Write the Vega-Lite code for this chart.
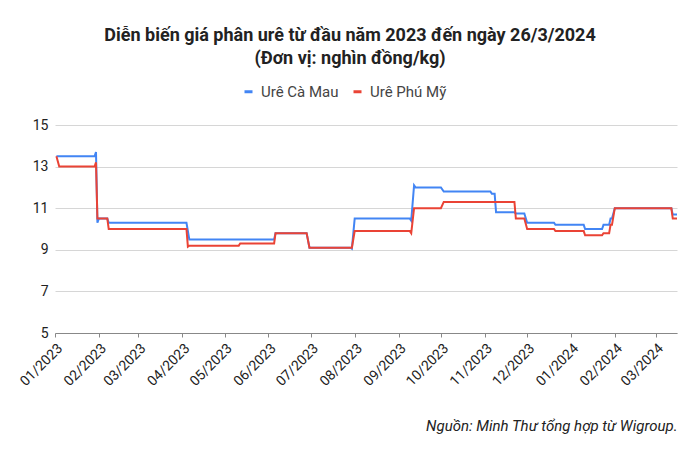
{
  "$schema": "https://vega.github.io/schema/vega-lite/v6.json",
  "width": 622,
  "height": 208,
  "autosize": {"type": "none"},
  "padding": {"left": 55, "top": 125, "right": 23, "bottom": 124},
  "background": "white",
  "config": {
    "view": {"stroke": null},
    "font": "Roboto",
    "axis": {"labelFont": "Roboto", "labelColor": "#222", "titleFont": "Roboto"},
    "legend": {"labelFont": "Roboto"}
  },
  "title": {
    "text": ["Diễn biến giá phân urê từ đầu năm 2023 đến ngày 26/3/2024", "(Đơn vị: nghìn đồng/kg)"],
    "font": "Roboto",
    "fontSize": 18,
    "fontWeight": "bold",
    "color": "#222",
    "lineHeight": 23,
    "anchor": "middle",
    "frame": "group",
    "dx": -16,
    "offset": 16
  },
  "data": {
    "values": [
      {"date": "2023-01-02", "series": "Urê Cà Mau", "price": 13.5},
      {"date": "2023-01-29", "series": "Urê Cà Mau", "price": 13.5},
      {"date": "2023-01-30", "series": "Urê Cà Mau", "price": 13.7},
      {"date": "2023-01-31", "series": "Urê Cà Mau", "price": 10.3},
      {"date": "2023-02-01", "series": "Urê Cà Mau", "price": 10.5},
      {"date": "2023-02-07", "series": "Urê Cà Mau", "price": 10.5},
      {"date": "2023-02-08", "series": "Urê Cà Mau", "price": 10.3},
      {"date": "2023-04-04", "series": "Urê Cà Mau", "price": 10.3},
      {"date": "2023-04-06", "series": "Urê Cà Mau", "price": 9.5},
      {"date": "2023-06-05", "series": "Urê Cà Mau", "price": 9.5},
      {"date": "2023-06-06", "series": "Urê Cà Mau", "price": 9.8},
      {"date": "2023-06-28", "series": "Urê Cà Mau", "price": 9.8},
      {"date": "2023-06-30", "series": "Urê Cà Mau", "price": 9.1},
      {"date": "2023-07-29", "series": "Urê Cà Mau", "price": 9.1},
      {"date": "2023-07-30", "series": "Urê Cà Mau", "price": 9.05},
      {"date": "2023-08-01", "series": "Urê Cà Mau", "price": 10.5},
      {"date": "2023-09-09", "series": "Urê Cà Mau", "price": 10.5},
      {"date": "2023-09-10", "series": "Urê Cà Mau", "price": 10.4},
      {"date": "2023-09-12", "series": "Urê Cà Mau", "price": 12.1},
      {"date": "2023-09-13", "series": "Urê Cà Mau", "price": 12.0},
      {"date": "2023-10-01", "series": "Urê Cà Mau", "price": 12.0},
      {"date": "2023-10-03", "series": "Urê Cà Mau", "price": 11.8},
      {"date": "2023-11-05", "series": "Urê Cà Mau", "price": 11.8},
      {"date": "2023-11-06", "series": "Urê Cà Mau", "price": 11.7},
      {"date": "2023-11-08", "series": "Urê Cà Mau", "price": 11.7},
      {"date": "2023-11-09", "series": "Urê Cà Mau", "price": 10.8},
      {"date": "2023-11-22", "series": "Urê Cà Mau", "price": 10.8},
      {"date": "2023-11-23", "series": "Urê Cà Mau", "price": 10.75},
      {"date": "2023-11-29", "series": "Urê Cà Mau", "price": 10.75},
      {"date": "2023-12-01", "series": "Urê Cà Mau", "price": 10.3},
      {"date": "2023-12-20", "series": "Urê Cà Mau", "price": 10.3},
      {"date": "2023-12-21", "series": "Urê Cà Mau", "price": 10.2},
      {"date": "2024-01-10", "series": "Urê Cà Mau", "price": 10.2},
      {"date": "2024-01-11", "series": "Urê Cà Mau", "price": 10.0},
      {"date": "2024-01-23", "series": "Urê Cà Mau", "price": 10.0},
      {"date": "2024-01-24", "series": "Urê Cà Mau", "price": 10.2},
      {"date": "2024-01-28", "series": "Urê Cà Mau", "price": 10.2},
      {"date": "2024-01-29", "series": "Urê Cà Mau", "price": 10.5},
      {"date": "2024-01-30", "series": "Urê Cà Mau", "price": 10.5},
      {"date": "2024-02-01", "series": "Urê Cà Mau", "price": 11.0},
      {"date": "2024-03-12", "series": "Urê Cà Mau", "price": 11.0},
      {"date": "2024-03-13", "series": "Urê Cà Mau", "price": 10.7},
      {"date": "2024-03-16", "series": "Urê Cà Mau", "price": 10.7},
      {"date": "2023-01-02", "series": "Urê Phú Mỹ", "price": 13.5},
      {"date": "2023-01-04", "series": "Urê Phú Mỹ", "price": 13.0},
      {"date": "2023-01-29", "series": "Urê Phú Mỹ", "price": 13.0},
      {"date": "2023-01-30", "series": "Urê Phú Mỹ", "price": 13.2},
      {"date": "2023-01-31", "series": "Urê Phú Mỹ", "price": 10.5},
      {"date": "2023-02-07", "series": "Urê Phú Mỹ", "price": 10.5},
      {"date": "2023-02-08", "series": "Urê Phú Mỹ", "price": 10.0},
      {"date": "2023-04-04", "series": "Urê Phú Mỹ", "price": 10.0},
      {"date": "2023-04-05", "series": "Urê Phú Mỹ", "price": 9.15},
      {"date": "2023-04-06", "series": "Urê Phú Mỹ", "price": 9.2},
      {"date": "2023-05-11", "series": "Urê Phú Mỹ", "price": 9.2},
      {"date": "2023-05-12", "series": "Urê Phú Mỹ", "price": 9.3},
      {"date": "2023-06-05", "series": "Urê Phú Mỹ", "price": 9.3},
      {"date": "2023-06-06", "series": "Urê Phú Mỹ", "price": 9.8},
      {"date": "2023-06-28", "series": "Urê Phú Mỹ", "price": 9.8},
      {"date": "2023-06-30", "series": "Urê Phú Mỹ", "price": 9.1},
      {"date": "2023-07-30", "series": "Urê Phú Mỹ", "price": 9.1},
      {"date": "2023-08-01", "series": "Urê Phú Mỹ", "price": 9.9},
      {"date": "2023-09-09", "series": "Urê Phú Mỹ", "price": 9.9},
      {"date": "2023-09-10", "series": "Urê Phú Mỹ", "price": 9.8},
      {"date": "2023-09-12", "series": "Urê Phú Mỹ", "price": 11.0},
      {"date": "2023-10-01", "series": "Urê Phú Mỹ", "price": 11.0},
      {"date": "2023-10-03", "series": "Urê Phú Mỹ", "price": 11.3},
      {"date": "2023-11-22", "series": "Urê Phú Mỹ", "price": 11.3},
      {"date": "2023-11-23", "series": "Urê Phú Mỹ", "price": 10.5},
      {"date": "2023-11-29", "series": "Urê Phú Mỹ", "price": 10.5},
      {"date": "2023-12-01", "series": "Urê Phú Mỹ", "price": 10.0},
      {"date": "2023-12-20", "series": "Urê Phú Mỹ", "price": 10.0},
      {"date": "2023-12-21", "series": "Urê Phú Mỹ", "price": 9.9},
      {"date": "2024-01-10", "series": "Urê Phú Mỹ", "price": 9.9},
      {"date": "2024-01-11", "series": "Urê Phú Mỹ", "price": 9.7},
      {"date": "2024-01-23", "series": "Urê Phú Mỹ", "price": 9.7},
      {"date": "2024-01-24", "series": "Urê Phú Mỹ", "price": 9.8},
      {"date": "2024-01-28", "series": "Urê Phú Mỹ", "price": 9.8},
      {"date": "2024-01-29", "series": "Urê Phú Mỹ", "price": 10.2},
      {"date": "2024-01-30", "series": "Urê Phú Mỹ", "price": 10.2},
      {"date": "2024-02-01", "series": "Urê Phú Mỹ", "price": 11.0},
      {"date": "2024-03-12", "series": "Urê Phú Mỹ", "price": 11.0},
      {"date": "2024-03-13", "series": "Urê Phú Mỹ", "price": 10.5},
      {"date": "2024-03-16", "series": "Urê Phú Mỹ", "price": 10.5}
    ]
  },
  "mark": {"type": "line", "strokeWidth": 2, "interpolate": "linear"},
  "encoding": {
    "x": {
      "field": "date",
      "type": "temporal",
      "scale": {"domain": [{"year": 2023, "month": 1, "date": 1}, {"year": 2024, "month": 3, "date": 16}]},
      "axis": {
        "format": "%m/%Y",
        "values": [
          {"year": 2023, "month": 1, "date": 1},
          {"year": 2023, "month": 2, "date": 1},
          {"year": 2023, "month": 3, "date": 1},
          {"year": 2023, "month": 4, "date": 1},
          {"year": 2023, "month": 5, "date": 1},
          {"year": 2023, "month": 6, "date": 1},
          {"year": 2023, "month": 7, "date": 1},
          {"year": 2023, "month": 8, "date": 1},
          {"year": 2023, "month": 9, "date": 1},
          {"year": 2023, "month": 10, "date": 1},
          {"year": 2023, "month": 11, "date": 1},
          {"year": 2023, "month": 12, "date": 1},
          {"year": 2024, "month": 1, "date": 1},
          {"year": 2024, "month": 2, "date": 1},
          {"year": 2024, "month": 3, "date": 1}
        ],
        "labelOverlap": false,
        "grid": false,
        "labelAngle": -45,
        "labelFontSize": 14,
        "labelPadding": 4,
        "domainColor": "#888",
        "tickColor": "#888",
        "tickSize": 4,
        "title": "Nguồn: Minh Thư tổng hợp từ Wigroup.",
        "titleAnchor": "end",
        "titleFontStyle": "italic",
        "titleFontWeight": "normal",
        "titleFontSize": 15,
        "titleColor": "#222",
        "titlePadding": 30
      }
    },
    "y": {
      "field": "price",
      "type": "quantitative",
      "scale": {"domain": [5, 15]},
      "axis": {
        "values": [5, 7, 9, 11, 13, 15],
        "title": null,
        "domain": false,
        "ticks": false,
        "labelFontSize": 14,
        "labelPadding": 7,
        "gridColor": "#d6d6d6"
      }
    },
    "color": {
      "field": "series",
      "type": "nominal",
      "scale": {"domain": ["Urê Cà Mau", "Urê Phú Mỹ"], "range": ["#4285F4", "#EA4335"]},
      "legend": {
        "orient": "none",
        "legendX": 186,
        "legendY": -41,
        "direction": "horizontal",
        "title": null,
        "symbolType": "stroke",
        "symbolSize": 64,
        "symbolStrokeWidth": 3,
        "labelFontSize": 15,
        "labelColor": "#444",
        "labelOffset": 5,
        "columnPadding": 8
      }
    }
  }
}
